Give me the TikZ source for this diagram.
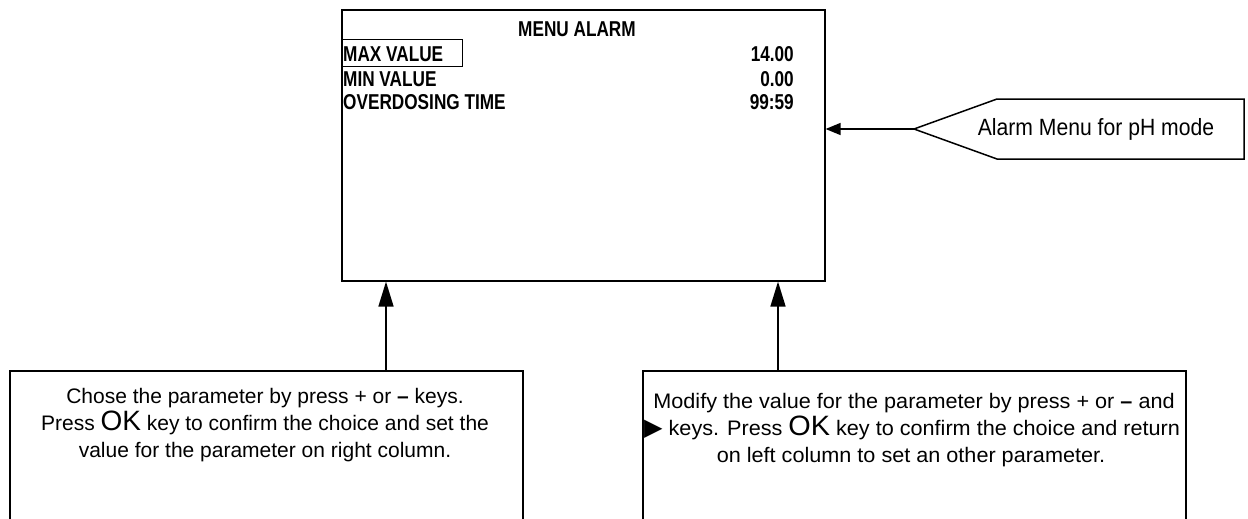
\documentclass[tikz,border=0pt]{standalone}
\usepackage{fontspec}
\setmainfont{Liberation Sans}
\newfontfamily\narrowfont[FakeStretch=0.8]{Liberation Sans}
\newfontfamily\calloutfont[FakeStretch=0.9]{Liberation Sans}
\newfontfamily\widefont[FakeStretch=1.03]{Liberation Sans}
\newfontfamily\symfont{DejaVu Sans}
\usetikzlibrary{arrows.meta}
\tikzset{
  frame/.style={draw, line width=1.6pt, inner sep=0pt},
  scr/.style={font=\narrowfont\bfseries\fontsize{21.5}{24}\selectfont, inner sep=0pt},
  body/.style={font=\fontsize{21}{27}\selectfont, inner sep=0pt},
  widebody/.style={font=\widefont\fontsize{21}{27}\selectfont, inner sep=0pt},
  uparrow/.style={line width=1.5pt, -{Triangle[length=25pt,width=15pt]}},
  sidearrow/.style={line width=1.5pt, -{Triangle[length=15pt,width=12pt]}},
}
\newcommand{\OKkey}{{\fontsize{28}{27}\selectfont OK}}
\begin{document}
\begin{tikzpicture}[x=1pt,y=-1pt]
\useasboundingbox (0,0) rectangle (1248,519);
% screen
\node[frame, anchor=north west, minimum width=483pt, minimum height=271pt] (screen) at (341,9) {};
\node[scr, anchor=base] (title) at (577,37) {MENU ALARM};
\node[frame, line width=1.4pt, anchor=north west, minimum width=121pt, minimum height=27pt] (sel) at (341,39) {};
\node[scr, anchor=base west] (r1) at (343,61.5) {MAX VALUE};
\node[scr, anchor=base west] (r2) at (343,86) {MIN VALUE};
\node[scr, anchor=base west] (r3) at (343,110) {OVERDOSING TIME};
\node[scr, anchor=base east] (v1) at (794,61.5) {14.00};
\node[scr, anchor=base east] (v2) at (794,86) {0.00};
\node[scr, anchor=base east] (v3) at (794,110) {99:59};
% callout
\coordinate (tip) at (914,129);
\draw[line width=1.5pt] (tip) -- (997,99) -- (1244,99) -- (1244,159) -- (997,159) -- cycle;
\node[font=\calloutfont\fontsize{23.5}{27}\selectfont, inner sep=0pt, anchor=base] (callout) at (1096,135) {Alarm Menu for pH mode};
\draw[sidearrow] (tip) -- (tip -| screen.east);
% bottom boxes
\node[frame, anchor=north west, minimum width=513pt, minimum height=180pt] (leftbox) at (9,370) {};
\node[frame, anchor=north west, minimum width=543pt, minimum height=180pt] (rightbox) at (642,370) {};
\coordinate (la) at (386,370);
\coordinate (ra) at (778,370);
\draw[uparrow] (la) -- (la |- screen.south);
\draw[uparrow] (ra) -- (ra |- screen.south);
% left text
\node[body, anchor=base] (l1) at (265,403) {Chose the parameter by press + or \textbf{–} keys.};
\node[body, anchor=base] (l2) at (265,430) {Press \OKkey{} key to confirm the choice and set the};
\node[body, anchor=base] (l3) at (265,457) {value for the parameter on right column.};
% right text
\node[widebody, anchor=base] (m1) at (914,408) {Modify the value for the parameter by press + or \textbf{–} and};
\node[widebody, anchor=base west] (m2) at (644,435) {{\symfont\fontsize{24}{27}\selectfont ▶} keys. Press \OKkey{} key to confirm the choice and return};
\node[widebody, anchor=base] (m3) at (911,462) {on left column to set an other parameter.};
\end{tikzpicture}
\end{document}
